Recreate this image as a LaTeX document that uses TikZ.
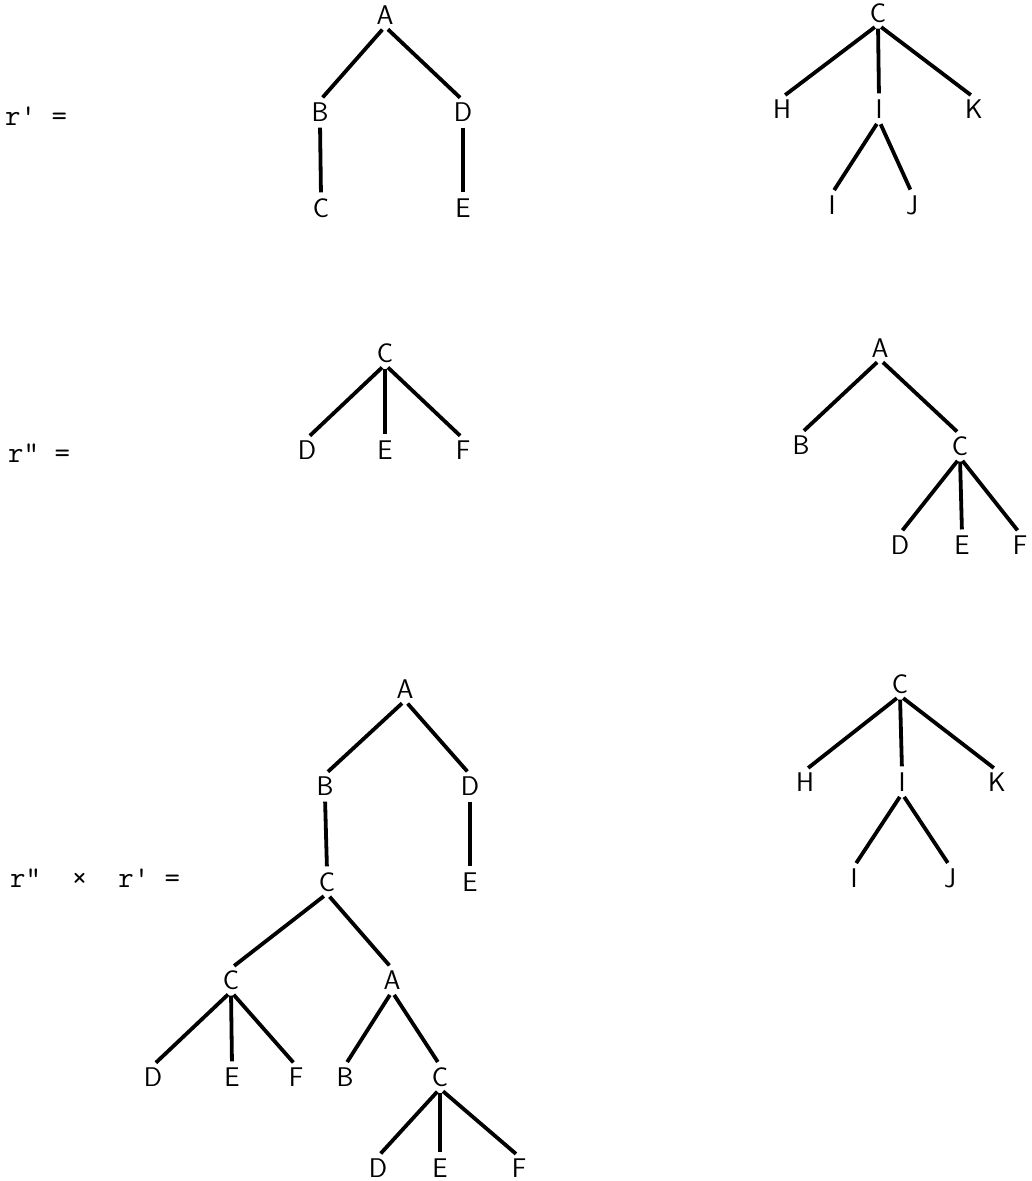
\documentclass[tikz,border=0pt]{standalone}
\usepackage{fontspec}
\tikzset{
  vtx/.style={font=\sffamily\fontsize{27}{27}\selectfont, inner sep=2pt},
  branch/.style={line width=3.8pt, shorten <=4pt, shorten >=4pt},
  rlabel/.style={font=\ttfamily\fontsize{30}{30}\selectfont, anchor=base west, inner sep=0pt}
}
\begin{document}
\begin{tikzpicture}[x=1pt,y=-1pt]
    \useasboundingbox (0,0) rectangle (1032,1181);

    % r'
    \node[rlabel] (r1) at (5,125) {r' =};

    \node[vtx] (pA) at (385,15) {A};
    \node[vtx] (pB) at (320,112) {B};
    \node[vtx] (pD) at (463,112) {D};
    \node[vtx] (pC) at (321,208) {C};
    \node[vtx] (pE) at (463,208) {E};

    \draw[branch] (pA.south) -- (pB.north);
    \draw[branch] (pA.south) -- (pD.north);
    \draw[branch] (pB.south) -- (pC.north);
    \draw[branch] (pD.south) -- (pE.north);

    \node[vtx] (qC) at (878,13) {C};
    \node[vtx] (qH) at (782,109) {H};
    \node[vtx] (qI) at (879,109) {I};
    \node[vtx] (qK) at (974,109) {K};
    \node[vtx] (qIb) at (832,205) {I};
    \node[vtx] (qJ) at (912,205) {J};

    \draw[branch] (qC.south) -- (qH.north);
    \draw[branch] (qC.south) -- (qI.north);
    \draw[branch] (qC.south) -- (qK.north);
    \draw[branch] (qI.south) -- (qIb.north);
    \draw[branch] (qI.south) -- (qJ.north);

    % r''
    \node[rlabel] (r2) at (8,462) {r" =};

    \node[vtx] (sC) at (385,353) {C};
    \node[vtx] (sD) at (307,450) {D};
    \node[vtx] (sE) at (385,450) {E};
    \node[vtx] (sF) at (463,450) {F};

    \draw[branch] (sC.south) -- (sD.north);
    \draw[branch] (sC.south) -- (sE.north);
    \draw[branch] (sC.south) -- (sF.north);

    \node[vtx] (tA) at (880,348) {A};
    \node[vtx] (tB) at (801,445) {B};
    \node[vtx] (tC) at (960,446) {C};
    \node[vtx] (tD) at (900,545) {D};
    \node[vtx] (tE) at (962,545) {E};
    \node[vtx] (tF) at (1020,545) {F};

    \draw[branch] (tA.south) -- (tB.north);
    \draw[branch] (tA.south) -- (tC.north);
    \draw[branch] (tC.south) -- (tD.north);
    \draw[branch] (tC.south) -- (tE.north);
    \draw[branch] (tC.south) -- (tF.north);

    % r'' x r'
    \node[rlabel] (r3) at (10,887) {r"\ \ ×\ \ r' =};

    \node[vtx] (uA) at (405,689) {A};
    \node[vtx] (uB) at (325,786) {B};
    \node[vtx] (uD) at (470,786) {D};
    \node[vtx] (uC) at (327,882) {C};
    \node[vtx] (uE) at (470,882) {E};
    \node[vtx] (uCb) at (231,980) {C};
    \node[vtx] (uAb) at (392,980) {A};
    \node[vtx] (uDb) at (153,1077) {D};
    \node[vtx] (uEb) at (232,1077) {E};
    \node[vtx] (uFb) at (296,1077) {F};
    \node[vtx] (uBb) at (345,1077) {B};
    \node[vtx] (uCc) at (440,1077) {C};
    \node[vtx] (uDc) at (378,1168) {D};
    \node[vtx] (uEc) at (440,1168) {E};
    \node[vtx] (uFc) at (519,1168) {F};

    \draw[branch] (uA.south) -- (uB.north);
    \draw[branch] (uA.south) -- (uD.north);
    \draw[branch] (uB.south) -- (uC.north);
    \draw[branch] (uD.south) -- (uE.north);
    \draw[branch] (uC.south) -- (uCb.north);
    \draw[branch] (uC.south) -- (uAb.north);
    \draw[branch] (uCb.south) -- (uDb.north);
    \draw[branch] (uCb.south) -- (uEb.north);
    \draw[branch] (uCb.south) -- (uFb.north);
    \draw[branch] (uAb.south) -- (uBb.north);
    \draw[branch] (uAb.south) -- (uCc.north);
    \draw[branch] (uCc.south) -- (uDc.north);
    \draw[branch] (uCc.south) -- (uEc.north);
    \draw[branch] (uCc.south) -- (uFc.north);

    \node[vtx] (vC) at (900,684) {C};
    \node[vtx] (vH) at (805,782) {H};
    \node[vtx] (vI) at (902,782) {I};
    \node[vtx] (vK) at (997,782) {K};
    \node[vtx] (vIb) at (854,878) {I};
    \node[vtx] (vJ) at (950,878) {J};

    \draw[branch] (vC.south) -- (vH.north);
    \draw[branch] (vC.south) -- (vI.north);
    \draw[branch] (vC.south) -- (vK.north);
    \draw[branch] (vI.south) -- (vIb.north);
    \draw[branch] (vI.south) -- (vJ.north);
  \end{tikzpicture}
\end{document}
